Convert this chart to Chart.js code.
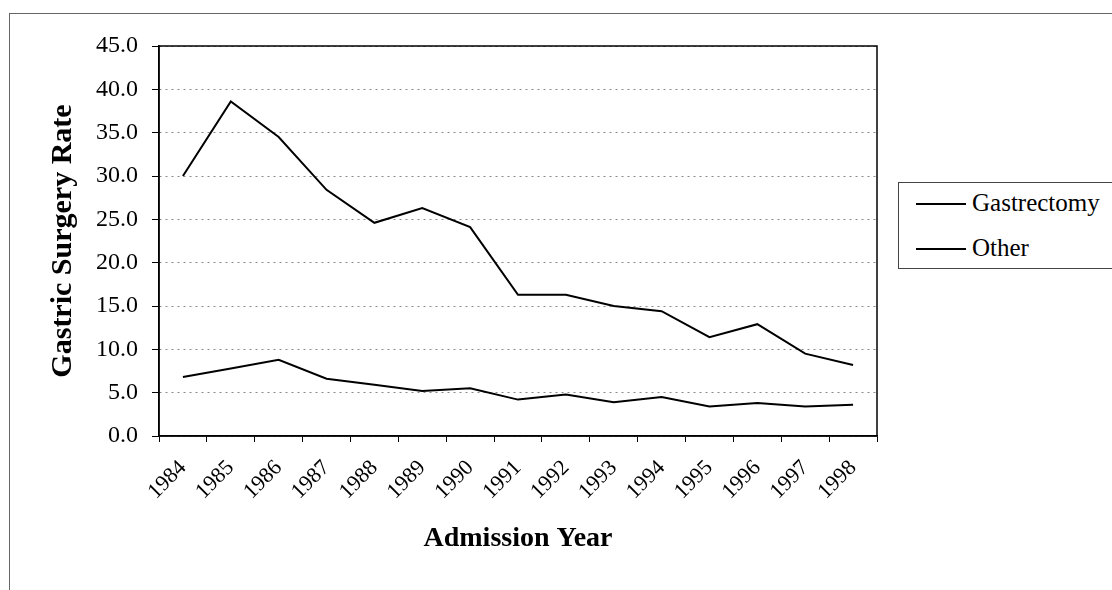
<!DOCTYPE html>
<html>
<head>
<meta charset="utf-8">
<script src="https://cdn.jsdelivr.net/npm/chart.js@4/dist/chart.umd.min.js"></script>
<style>
  html, body { margin: 0; padding: 0; background: #fff; }
  #wrap { position: relative; width: 1112px; height: 590px; overflow: hidden; }
  #frame { position: absolute; left: 9px; top: 13px; width: 1200px; height: 700px; border: 1px solid #666; box-sizing: border-box; }
  #c { position: absolute; left: 0; top: 0; }
  #legend { position: absolute; left: 898px; top: 182px; width: 300px; height: 87px; border: 1px solid #444; box-sizing: border-box; background: #fff;
            font-family: "Liberation Serif", "Times New Roman", serif; font-size: 25px; color: #000; }
  .item { position: absolute; left: 17px; height: 30px; line-height: 30px; white-space: nowrap; }
  .item .ln { display: inline-block; width: 50px; height: 0; border-top: 2px solid #000; vertical-align: middle; margin-right: 6px; position: relative; top: -1px; }
</style>
</head>
<body>
<div id="wrap">
  <div id="frame"></div>
  <canvas id="c" width="1112" height="590"></canvas>
  <div id="legend"></div>
</div>
<script>
const categories = ["1984","1985","1986","1987","1988","1989","1990","1991","1992","1993","1994","1995","1996","1997","1998"];
const gastrectomy = [30.0, 38.6, 34.5, 28.4, 24.6, 26.3, 24.1, 16.3, 16.3, 15.0, 14.4, 11.4, 12.9, 9.5, 8.2];
const other = [6.8, 7.8, 8.8, 6.6, 5.9, 5.2, 5.5, 4.2, 4.8, 3.9, 4.5, 3.4, 3.8, 3.4, 3.6];
const seriesNames = ["Gastrectomy", "Other"];
const yMin = 0, yMax = 45, yStep = 5;
const xTitle = "Admission Year";
const yTitle = "Gastric Surgery Rate";

const serif = "'Liberation Serif', 'Times New Roman', serif";

const plotFrame = {
  id: 'plotFrame',
  afterDraw(chart) {
    const a = chart.chartArea, ctx = chart.ctx;
    ctx.save();
    ctx.strokeStyle = '#000';
    ctx.lineWidth = 1.5;
    ctx.strokeRect(a.left, a.top, a.right - a.left, a.bottom - a.top);
    ctx.restore();
  }
};

new Chart(document.getElementById('c'), {
  type: 'line',
  data: {
    labels: categories,
    datasets: [
      { label: seriesNames[0], data: gastrectomy, borderColor: '#000', borderWidth: 2, pointRadius: 0, tension: 0, fill: false },
      { label: seriesNames[1], data: other, borderColor: '#000', borderWidth: 2, pointRadius: 0, tension: 0, fill: false }
    ]
  },
  options: {
    responsive: false,
    animation: false,
    devicePixelRatio: 1,
    layout: { padding: { left: 0, right: 235, top: 46, bottom: 0 } },
    plugins: { legend: { display: false }, tooltip: { enabled: false } },
    scales: {
      x: {
        type: 'category',
        offset: true,
        grid: { offset: true, drawOnChartArea: false, drawTicks: true, tickLength: 6, tickColor: '#000', tickWidth: 1 },
        border: { display: true, color: '#000', width: 1.5 },
        ticks: { minRotation: 45, maxRotation: 45, autoSkip: false, padding: 13, color: '#000', font: { family: serif, size: 22 } },
        title: { display: true, text: xTitle, color: '#000', font: { family: serif, size: 28, weight: 'bold' }, padding: { top: 0, bottom: 34 } },
        afterFit(scale) { scale.height = 154; }
      },
      y: {
        min: yMin, max: yMax,
        ticks: { stepSize: yStep, padding: 14, color: '#000', font: { family: serif, size: 24 }, callback: v => Number(v).toFixed(1) },
        grid: { color: '#8a8a8a', lineWidth: 1, drawTicks: true, tickLength: 7, tickColor: '#000', tickWidth: 1, tickBorderDash: [] },
        border: { display: true, color: '#000', width: 1.5, dash: [2, 4] },
        title: { display: true, text: yTitle, color: '#000', font: { family: serif, size: 30, weight: 'bold' }, padding: { top: 45, bottom: 0 } },
        afterFit(scale) { scale.width = 159; }
      }
    }
  },
  plugins: [plotFrame]
});

const lg = document.getElementById('legend');
seriesNames.forEach((n, i) => {
  const d = document.createElement('div');
  d.className = 'item';
  d.style.top = (i === 0 ? 5 : 50) + 'px';
  d.innerHTML = '<span class="ln"></span>';
  d.appendChild(document.createTextNode(n));
  lg.appendChild(d);
});
</script>
</body>
</html>
